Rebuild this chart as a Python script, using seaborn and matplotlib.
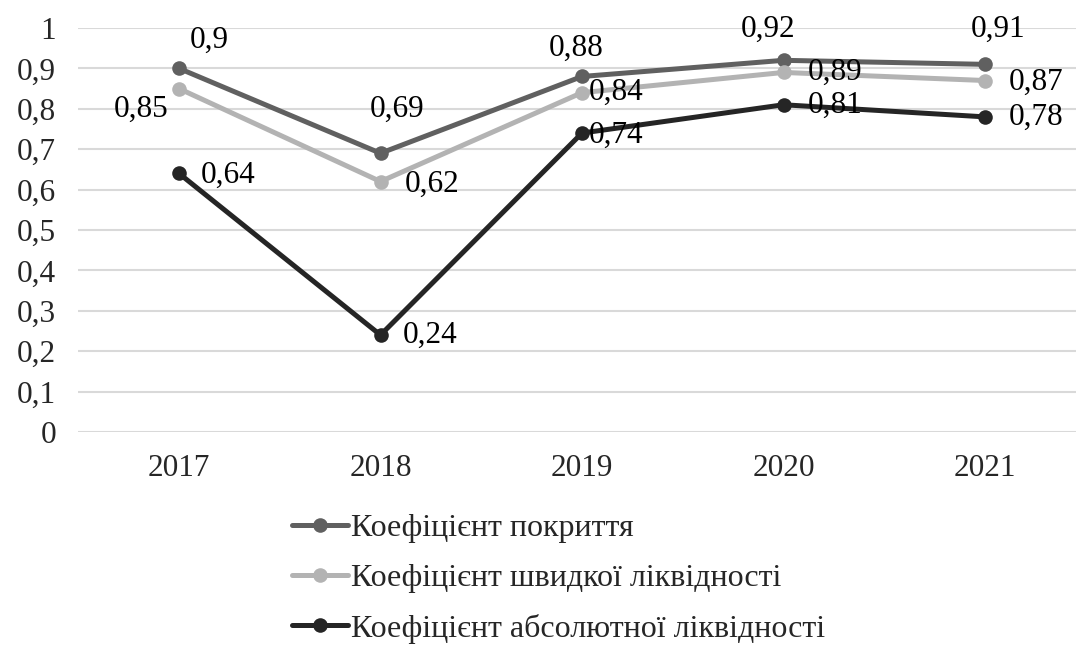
import matplotlib
matplotlib.use("Agg")
import matplotlib.pyplot as plt
import seaborn as sns
import pandas as pd

years = ["2017", "2018", "2019", "2020", "2021"]
coverage = [0.90, 0.69, 0.88, 0.92, 0.91]
quick = [0.85, 0.62, 0.84, 0.89, 0.87]
absolute = [0.64, 0.24, 0.74, 0.81, 0.78]
series_names = [
    "Коефіцієнт покриття",
    "Коефіцієнт швидкої ліквідності",
    "Коефіцієнт абсолютної ліквідності",
]
y_ticks = [0, 0.1, 0.2, 0.3, 0.4, 0.5, 0.6, 0.7, 0.8, 0.9, 1.0]

colors = ["#606060", "#b3b3b3", "#252525"]

sns.set_theme(style="white")
plt.rcParams["font.family"] = ["Liberation Serif", "DejaVu Serif"]
FS = 22.5
LEG_FS = 23

fig = plt.figure(figsize=(10.76, 6.46), dpi=100)
ax = fig.add_axes([78.25 / 1076, 214 / 646, 1007.5 / 1076, 404 / 646])

rows = []
for name, vals in zip(series_names, [coverage, quick, absolute]):
    for i, v in enumerate(vals):
        rows.append({"pos": i, "value": v, "series": name})
df = pd.DataFrame(rows)

sns.lineplot(
    data=df, x="pos", y="value", hue="series", hue_order=series_names,
    palette=colors, marker="o", markersize=10.5, markeredgewidth=0,
    linewidth=3.6, ax=ax, legend=False, zorder=3,
)
for ln in ax.lines:
    ln.set_clip_on(False)

ax.set_xlim(-0.5, 4.5)
ax.set_ylim(0, 1)
ax.set_yticks(y_ticks)
ax.set_yticklabels([("%g" % t).replace(".", ",") for t in y_ticks], fontsize=FS)
ax.set_xticks(range(len(years)))
ax.set_xticklabels(years, fontsize=FS)
ax.tick_params(axis="y", length=0, pad=16)
ax.tick_params(axis="x", length=0, pad=16)
ax.set_xlabel("")
ax.set_ylabel("")
ax.grid(axis="y", color="#d9d9d9", linewidth=1.5, zorder=0)
for s in ax.spines.values():
    s.set_visible(False)

px = 0.72  # pixels to points at 100 dpi
# label offsets in pixels (dx, dy up), alignment
coverage_off = [(30, 28), (17, 44), (-6, 28), (-15, 31), (13, 35)]
quick_off = [(-38, -21, "center"), (24, -3, "left"), (7, 0, "left"), (24, 0, "left"), (24, -2, "left")]
abs_off = [(22, -2, "left"), (22, 0, "left"), (7, -2, "left"), (24, -1, "left"), (24, 0, "left")]

def fmt(v):
    return ("%g" % v).replace(".", ",")

for i, v in enumerate(coverage):
    dx, dy = coverage_off[i]
    ax.annotate(fmt(v), (i, v), xytext=(dx * px, dy * px), textcoords="offset points",
                ha="center", va="center", fontsize=FS, color="black", zorder=4,
                annotation_clip=False)
for vals, offs in [(quick, quick_off), (absolute, abs_off)]:
    for i, v in enumerate(vals):
        dx, dy, ha = offs[i]
        ax.annotate(fmt(v), (i, v), xytext=(dx * px, dy * px), textcoords="offset points",
                    ha=ha, va="center", fontsize=FS, color="black", zorder=4,
                    annotation_clip=False)

handles = [
    plt.Line2D([], [], color=c, linewidth=3.6, marker="o", markersize=10.5, markeredgewidth=0)
    for c in colors
]
fig.legend(
    handles, series_names, loc="upper left", bbox_to_anchor=(292 / 1076, 1 - 514 / 646),
    frameon=False, fontsize=LEG_FS, handlelength=1.75, handletextpad=0.1,
    labelspacing=0.64, borderaxespad=0, borderpad=0,
)

fig.savefig("out.png", dpi=100)
